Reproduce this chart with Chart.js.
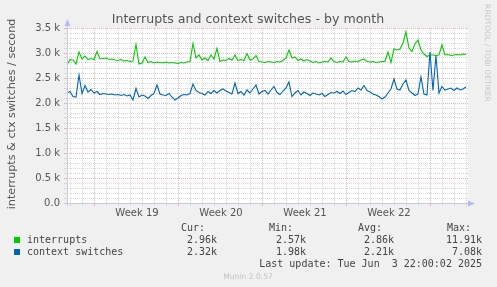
<!DOCTYPE html>
<html>
<head>
<meta charset="utf-8">
<script src="https://cdn.jsdelivr.net/npm/chart.js@4/dist/chart.umd.min.js"></script>
<style>
  html, body { margin: 0; padding: 0; background: #f0f0f0; }
  #wrap { width: 497px; height: 287px; }
</style>
</head>
<body>
<div id="wrap"><canvas id="chart" width="497" height="287"></canvas></div>
<script>
const STEP_DAYS = 0.25;
const WEEK0 = 2.3333;          // day offset of the first week boundary (start of week 19)
const FIRST_WEEK = 19;
const X_MAX = 33.42;           // visible span in days

const interrupts = [
  2760, 2870, 2860, 2780, 3020, 2880, 2940, 2870, 2890, 2870,
  3030, 2880, 2890, 2900, 2870, 2880, 2860, 2850, 2870, 2840,
  2850, 2830, 2840, 3170, 2780, 2800, 2920, 2810, 2830, 2800,
  2820, 2810, 2800, 2820, 2800, 2810, 2800, 2790, 2810, 2800,
  2820, 2830, 3190, 2900, 2960, 2860, 2900, 2850, 2960, 2880,
  3090, 2830, 2860, 2850, 2890, 2860, 2960, 2850, 2870, 2850,
  2990, 2860, 2880, 2950, 2830, 2820, 2810, 2830, 2820, 2810,
  2830, 2820, 2850, 2900, 3060, 2900, 2920, 2850, 2880, 2840,
  2870, 2840, 2810, 2830, 2800, 2820, 2830, 2820, 2900, 2830,
  2810, 2830, 2820, 2920, 2830, 2820, 2840, 2830, 2860, 2880,
  2830, 2820, 2830, 2810, 2820, 2830, 2830, 3020, 2810, 3080,
  3060, 3080, 3200, 3420, 3100, 3030, 3180, 3260, 3060, 2980,
  2930, 2960, 2960, 2950, 2960, 3160, 2960, 2970, 2950, 2960,
  2970, 2960, 2980, 2970
];

const contextSwitches = [
  2200, 2230, 2130, 2120, 2560, 2190, 2350, 2220, 2270, 2200,
  2230, 2170, 2190, 2180, 2170, 2180, 2160, 2170, 2150, 2170,
  2140, 2160, 2060, 2290, 2120, 2160, 2140, 2090, 2150, 2190,
  2360, 2180, 2160, 2150, 2190, 2120, 2060, 2100, 2150, 2170,
  2160, 2190, 2380, 2250, 2210, 2190, 2160, 2230, 2190, 2250,
  2200, 2250, 2280, 2240, 2210, 2180, 2400, 2190, 2230, 2160,
  2260, 2200, 2280, 2360, 2180, 2230, 2250, 2180, 2260, 2330,
  2210, 2170, 2240, 2300, 2420, 2130, 2200, 2250, 2160, 2220,
  2190, 2150, 2200, 2180, 2160, 2190, 2130, 2170, 2210, 2200,
  2230, 2190, 2240, 2170, 2210, 2250, 2230, 2300, 2260, 2350,
  2250, 2220, 2180, 2160, 2130, 2080, 2120, 2200, 2280, 2480,
  2280, 2260, 2380, 2460, 2250, 2200, 2150, 2180, 2520, 2180,
  2160, 3020, 2250, 2950, 2200, 2330, 2260, 2280, 2300, 2250,
  2300, 2260, 2280, 2320
];

const seriesNames = ['interrupts', 'context switches'];
const seriesColors = ['#00cc00', '#0066b3'];
const statHeaders = ['Cur:', 'Min:', 'Avg:', 'Max:'];
const statsInterrupts = ['2.96k', '2.57k', '2.86k', '11.91k'];
const statsContext = ['2.32k', '1.98k', '2.21k', '7.08k'];
const yTickValues = [0, 500, 1000, 1500, 2000, 2500, 3000, 3500];

const toPoints = (arr) => arr.map((v, i) => ({ x: i * STEP_DAYS, y: v }));

// x tick index relative to the first week boundary, in half days
const halfIdx = (v) => Math.round((v - WEEK0) * 2);
const mod = (a, n) => ((a % n) + n) % n;

const RED = 'rgba(235,150,150,0.7)';
const GRAY = '#d8d8d8';
const TEXT = '#555555';

// Extra munin decoration: white plot, axes with arrows, title, legend
const muninDecor = {
    id: 'muninDecor',
    beforeDraw(chart) {
        const { ctx, chartArea: a } = chart;
        ctx.save();
        ctx.fillStyle = '#ffffff';
        ctx.fillRect(a.left, a.top, a.right - a.left, a.bottom - a.top);
        ctx.restore();
    },
    afterDraw(chart) {
        const { ctx, chartArea: a } = chart;
        ctx.save();

        // axes
        ctx.strokeStyle = '#c8cbe6';
        ctx.lineWidth = 1;
        ctx.beginPath();
        ctx.moveTo(a.left + 0.5, a.bottom + 3);
        ctx.lineTo(a.left + 0.5, a.top - 5);
        ctx.moveTo(a.left - 3, a.bottom + 0.5);
        ctx.lineTo(a.right + 4, a.bottom + 0.5);
        ctx.stroke();
        ctx.fillStyle = '#b4bcf4';
        ctx.beginPath();
        ctx.moveTo(a.left + 0.5, a.top - 9);
        ctx.lineTo(a.left - 2.5, a.top - 2);
        ctx.lineTo(a.left + 3.5, a.top - 2);
        ctx.closePath();
        ctx.fill();
        ctx.beginPath();
        ctx.moveTo(a.right + 7, a.bottom + 0.5);
        ctx.lineTo(a.right, a.bottom - 2.5);
        ctx.lineTo(a.right, a.bottom + 3.5);
        ctx.closePath();
        ctx.fill();

        // title
        ctx.fillStyle = TEXT;
        ctx.font = '12.6px "DejaVu Sans"';
        ctx.textAlign = 'center';
        ctx.textBaseline = 'alphabetic';
        ctx.fillText('Interrupts and context switches - by month', 248, 23);

        // vertical axis title
        ctx.save();
        ctx.translate(15, 114);
        ctx.rotate(-Math.PI / 2);
        ctx.font = '11.2px "DejaVu Sans"';
        ctx.fillText('interrupts & ctx switches / second', 0, 0);
        ctx.restore();

        // rrdtool credit
        ctx.save();
        ctx.translate(485, 53);
        ctx.rotate(Math.PI / 2);
        ctx.fillStyle = '#c8c8c8';
        ctx.font = '7.6px "DejaVu Sans"';
        ctx.fillText('RRDTOOL / TOBI OETIKER', 0, 0);
        ctx.restore();

        // legend
        ctx.font = '10px "DejaVu Sans Mono"';
        ctx.fillStyle = '#444444';
        ctx.textAlign = 'left';
        const headerX = [181, 269, 358, 447];
        statHeaders.forEach((h, i) => ctx.fillText(h, headerX[i], 231));

        const valueRight = [217, 306, 394, 482];
        const rows = [statsInterrupts, statsContext];
        rows.forEach((vals, r) => {
            const y = 243 + r * 12;
            ctx.fillStyle = seriesColors[r];
            ctx.fillRect(14, y - 6, 6, 6);
            ctx.fillStyle = '#444444';
            ctx.textAlign = 'left';
            ctx.fillText(seriesNames[r], 27, y);
            ctx.textAlign = 'right';
            vals.forEach((v, i) => ctx.fillText(v, valueRight[i], y));
        });
        ctx.textAlign = 'right';
        ctx.fillText('Last update: Tue Jun  3 22:00:02 2025', 482, 267);

        ctx.textAlign = 'center';
        ctx.fillStyle = '#c4c4c4';
        ctx.font = '7.6px "DejaVu Sans"';
        ctx.fillText('Munin 2.0.57', 248, 279);

        ctx.restore();
    }
};

Chart.defaults.font.family = '"DejaVu Sans"';
Chart.defaults.color = TEXT;

new Chart(document.getElementById('chart').getContext('2d'), {
    type: 'line',
    data: {
        datasets: [
            {
                label: seriesNames[1],
                data: toPoints(contextSwitches),
                borderColor: seriesColors[1],
                borderWidth: 1.1,
                pointRadius: 0,
                tension: 0,
                order: 0
            },
            {
                label: seriesNames[0],
                data: toPoints(interrupts),
                borderColor: seriesColors[0],
                borderWidth: 1.1,
                pointRadius: 0,
                tension: 0,
                order: 1
            }
        ]
    },
    options: {
        responsive: false,
        animation: false,
        events: [],
        layout: { padding: { left: 0, top: 28, right: 29, bottom: 0 } },
        plugins: {
            legend: { display: false },
            title: { display: false },
            tooltip: { enabled: false }
        },
        scales: {
            x: {
                type: 'linear',
                min: 0,
                max: X_MAX,
                afterFit: (scale) => { scale.height = 84; },
                afterBuildTicks: (scale) => {
                    const ticks = [];
                    for (let j = -4; WEEK0 + j * 0.5 <= X_MAX; j++) {
                        ticks.push({ value: WEEK0 + j * 0.5 });
                    }
                    scale.ticks = ticks;
                },
                border: { display: false, dash: [1, 1] },
                grid: {
                    color: (c) => {
                        if (!c.tick) return 'transparent';
                        const j = halfIdx(c.tick.value);
                        if (mod(j, 14) === 0) return RED;
                        if (mod(j, 2) === 0) return GRAY;
                        return 'transparent';
                    },
                    tickLength: 3,
                    lineWidth: 1
                },
                ticks: {
                    autoSkip: false,
                    maxRotation: 0,
                    padding: 1,
                    font: { size: 10 },
                    callback: (value) => {
                        const j = halfIdx(value);
                        return mod(j, 14) === 7 ? 'Week ' + (FIRST_WEEK + Math.floor(j / 14)) : '';
                    }
                }
            },
            y: {
                min: 0,
                max: 3500,
                afterFit: (scale) => { scale.width = 67; },
                afterBuildTicks: (scale) => {
                    const ticks = [];
                    for (let v = 0; v <= 3500; v += 100) ticks.push({ value: v });
                    scale.ticks = ticks;
                },
                border: { display: false, dash: [1, 1] },
                grid: {
                    color: (c) => {
                        if (!c.tick || c.tick.value === 0) return 'transparent';
                        return yTickValues.includes(c.tick.value) ? RED : GRAY;
                    },
                    tickLength: 3,
                    lineWidth: 1
                },
                ticks: {
                    autoSkip: false,
                    padding: 4,
                    font: { size: 10 },
                    callback: (value) => {
                        if (!yTickValues.includes(value)) return '';
                        return value === 0 ? '0.0' : (value / 1000).toFixed(1) + ' k';
                    }
                }
            }
        }
    },
    plugins: [muninDecor]
});
</script>
</body>
</html>
